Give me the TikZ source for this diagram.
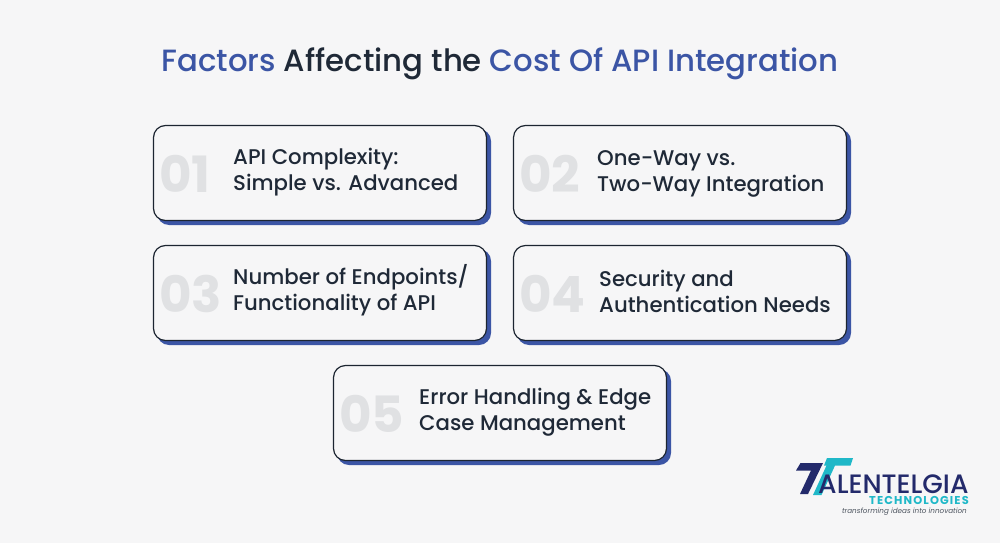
\documentclass[tikz,border=0pt]{standalone}
\usepackage{fontspec}
\setmainfont{Poppins}
\newfontfamily\medfont{Poppins Medium}
\newfontfamily\boldfont{Poppins Bold}
\definecolor{pagebg}{HTML}{F6F6F7}
\definecolor{inkdark}{HTML}{1F2937}
\definecolor{blueaccent}{HTML}{3B55A5}
\definecolor{numgray}{HTML}{E0E1E3}
\definecolor{logonavy}{HTML}{232A6B}
\definecolor{logoteal}{HTML}{1FB8C8}
\tikzset{
    cardbox/.style={draw=inkdark!90!black, line width=1.2pt, rounded corners=12pt, fill=pagebg, minimum width=333pt, minimum height=95pt, inner sep=0pt},
    cardshadow/.style={fill=blueaccent, rounded corners=12pt, minimum width=334pt, minimum height=96pt, inner sep=0pt},
    cardnum/.style={text=numgray, font=\boldfont\fontsize{50}{50}\selectfont, anchor=west, inner sep=0pt},
    cardtext/.style={text=inkdark, font=\medfont\fontsize{21.25}{26}\selectfont, align=left, anchor=west, inner sep=0pt}
}
\begin{document}
\begin{tikzpicture}[x=1pt, y=-1pt]
    \useasboundingbox[fill=pagebg] (0,0) rectangle (1000,543);

    % Titolo
    \node[font=\medfont\fontsize{30.75}{36}\selectfont, text=inkdark, inner sep=0pt] (title) at (500,63.5)
        {\textcolor{blueaccent}{Factors} Affecting the \textcolor{blueaccent}{Cost Of API Integration}};

    % Schede: numero, x, y, posizione del testo, testo
    \foreach \i/\x/\y/\tx/\ty/\label in {
        01/320/173/233/172/{API Complexity:\\Simple vs. Advanced},
        02/680/173/597/173.5/{One-Way vs.\\Two-Way Integration},
        03/320/293/233/290.5/{Number of Endpoints/\\Functionality of API},
        04/680/293/599/291/{Security and\\Authentication Needs},
        05/500/413/419/412/{Error Handling \& Edge\\Case Management}} {
        \node[cardshadow] (shadow\i) at (\x+4,\y+4) {};
        \node[cardbox] (card\i) at (\x,\y) {};
        \node[cardnum] (num\i) at (\x-161,\y+1) {\i};
        \node[cardtext] (text\i) at (\tx,\ty) {\label};
    }

    % Logo
    \fill[logonavy] (800.5,463) -- (823,463) -- (808,494) -- (800,494) -- (811,470.5) -- (796,470.5) -- cycle;
    \fill[logoteal] (827,458) -- (853,458) -- (850.5,465.5) -- (835,465.5) -- (821.5,495) -- (813,495) -- (826.5,465.5) -- (824,465.5) -- cycle;
    \node[font=\medfont\fontsize{26.6}{27}\selectfont, text=logonavy, inner sep=0pt, anchor=base west] (logoname) at (818,493) {ALENTELGIA};
    \node[font=\boldfont\addfontfeature{LetterSpace=10}\fontsize{11.4}{11.4}\selectfont, text=logoteal, inner sep=0pt, anchor=base east] (logosub) at (969,504.5) {TECHNOLOGIES};
    \node[font=\itshape\fontsize{7.2}{9}\selectfont, text=inkdark!80, inner sep=0pt, anchor=base east] (logotag) at (967,513.5) {transforming ideas into innovation};
\end{tikzpicture}
\end{document}
